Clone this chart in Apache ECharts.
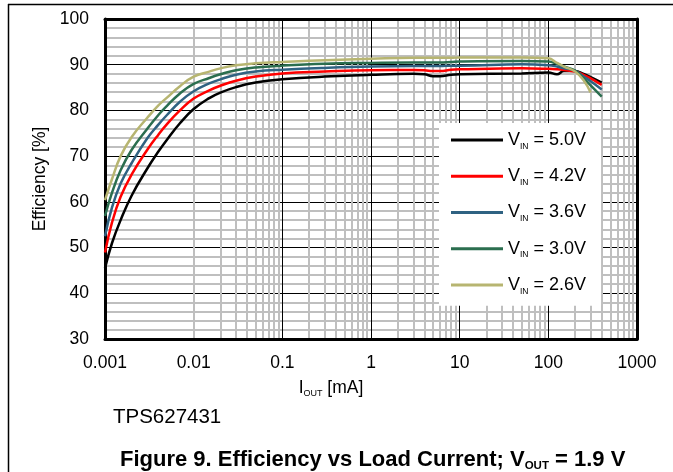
<!DOCTYPE html>
<html><head><meta charset="utf-8">
<script src="https://cdn.jsdelivr.net/npm/echarts@6/dist/echarts.min.js"></script>
<style>html,body{margin:0;padding:0;background:#fff}#c{width:673px;height:472px}</style>
</head><body><div id="c"></div>
<script>
// ---- data ----
const currentMA = [0.001, 0.0012, 0.0015, 0.002, 0.003, 0.004, 0.005, 0.007, 0.01, 0.015, 0.02, 0.03, 0.05, 0.1, 0.3, 1, 3, 4, 5, 6, 8, 10, 50, 100, 125, 150, 200, 250, 300, 400];
const effVin50 = [45.5, 51.0, 56.0, 61.4, 67.3, 71.0, 73.6, 77.2, 80.3, 82.7, 83.9, 85.1, 86.1, 86.8, 87.4, 87.8, 88.0, 87.9, 87.5, 87.5, 87.8, 87.9, 88.1, 88.3, 87.9, 88.6, 88.6, 88.0, 87.3, 86.1];
const effVin42 = [48.9, 55.5, 61.1, 66.0, 71.4, 74.7, 77.0, 80.0, 82.6, 84.4, 85.4, 86.5, 87.4, 88.1, 88.5, 88.8, 88.85, 88.8, 88.6, 88.6, 88.9, 89.0, 89.2, 89.1, 89.0, 88.85, 88.5, 87.8, 87.0, 85.6];
const effVin36 = [52.5, 58.8, 64.0, 68.5, 73.9, 76.9, 79.0, 81.9, 84.2, 85.9, 86.8, 87.8, 88.5, 88.9, 89.3, 89.6, 89.7, 89.7, 89.7, 89.7, 89.8, 89.8, 90.1, 89.9, 89.6, 89.2, 88.7, 87.4, 86.4, 84.6];
const effVin30 = [56.9, 62.0, 66.9, 71.4, 76.0, 79.0, 81.0, 83.7, 85.8, 87.1, 87.9, 88.8, 89.4, 89.8, 90.2, 90.4, 90.5, 90.5, 90.5, 90.5, 90.6, 90.7, 90.8, 90.7, 90.2, 89.6, 88.7, 87.0, 85.5, 83.0];
const effVin26 = [60.4, 65.0, 70.0, 74.2, 78.4, 81.1, 82.8, 85.3, 87.4, 88.5, 89.2, 89.9, 90.3, 90.6, 91.0, 91.3, 91.5, 91.5, 91.5, 91.5, 91.5, 91.6, 91.6, 91.4, 90.4, 89.6, 88.5, 86.6, 83.9, null];
const seriesVin = ['5.0V', '4.2V', '3.6V', '3.0V', '2.6V'];
const xTickLabels = ['0.001', '0.01', '0.1', '1', '10', '100', '1000'];
const yMin = 30, yMax = 100, yStep = 10;
const xMin = 0.001, xMax = 1000;

const effSets = [effVin50, effVin42, effVin36, effVin30, effVin26];
const colors = ['#000000', '#ff0000', '#2f6282', '#2b6e4f', '#b7b571'];
const FONT = "'Liberation Sans', Arial, sans-serif";

// minor log gridline values (2..9 in each decade)
const minorX = [];
for (let d = -3; d <= 2; d++) {
  for (let k = 2; k <= 9; k++) minorX.push(+(k * Math.pow(10, d)).toPrecision(6));
}

const dataSeries = effSets.map((arr, i) => ({
  name: seriesVin[i],
  type: 'line',
  xAxisIndex: 0, yAxisIndex: 0,
  data: currentMA.map((x, j) => arr[j] == null ? null : [x, arr[j]]).filter(p => p),
  showSymbol: false, symbol: 'none',
  smooth: 0.45,
  lineStyle: { color: colors[i], width: 2.5 },
  itemStyle: { color: colors[i] },
  z: 12,
  animation: false
}));

const gridSeries = {
  type: 'line', data: [], silent: true, z: 1,
  markLine: {
    silent: true, symbol: ['none', 'none'], label: { show: false },
    lineStyle: { color: '#bfbfbf', width: 2, type: 'solid' },
    emphasis: { disabled: true },
    animation: false,
    data: minorX.map(v => ({ xAxis: v }))
  }
};

const chart = echarts.init(document.getElementById('c'), null, { renderer: 'canvas' });
chart.setOption({
  animation: false,
  backgroundColor: '#ffffff',
  textStyle: { fontFamily: FONT },
  grid: { left: 105, top: 19, right: 36, bottom: 133, containLabel: false },
  title: [
    { text: 'TPS627431', left: 113, top: 407, padding: 0,
      textStyle: { fontSize: 20.5, fontWeight: 'normal', color: '#000', fontFamily: FONT } },
    { text: '{b|Figure 9. Efficiency vs Load Current; V}{s|OUT}{b| = 1.9 V}', left: 120, top: 448, padding: 0,
      textStyle: { rich: {
        b: { fontSize: 22, fontWeight: 'bold', color: '#000', fontFamily: FONT, lineHeight: 24 },
        s: { fontSize: 11.5, fontWeight: 'bold', color: '#000', fontFamily: FONT, lineHeight: 15, verticalAlign: 'bottom' }
      } } }
  ],
  legend: {
    data: seriesVin, orient: 'vertical', left: 439, top: 123,
    backgroundColor: '#ffffff', padding: [8, 15, 10, 12],
    itemWidth: 52, itemHeight: 3, itemGap: 16.5, icon: 'rect', z: 20,
    formatter: n => '{v|V}{s|IN}{v| = ' + n + '}',
    textStyle: { color: '#000', rich: {
      v: { fontSize: 18, lineHeight: 21.5, color: '#000', fontFamily: FONT },
      s: { fontSize: 8.5, lineHeight: 9, color: '#000', fontFamily: FONT, verticalAlign: 'bottom' }
    } }
  },
  xAxis: [
    { type: 'log', logBase: 10, min: xMin, max: xMax, position: 'bottom', z: 5,
      axisLine: { show: true, lineStyle: { color: '#000', width: 3 } },
      axisTick: { show: false },
      axisLabel: { color: '#000', fontSize: 17.5, margin: 15, fontFamily: FONT,
        formatter: v => xTickLabels[Math.round(Math.log10(v)) + 3] },
      splitLine: { show: false },
      name: '{n|I}{s|OUT}{n| [mA]}', nameLocation: 'middle', nameGap: 39,
      nameTextStyle: { padding: [0, 80, 0, 0], rich: {
        n: { fontSize: 17.5, lineHeight: 20, color: '#000', fontFamily: FONT },
        s: { fontSize: 9, lineHeight: 13, color: '#000', fontFamily: FONT, verticalAlign: 'bottom' }
      } } },
    { type: 'log', logBase: 10, min: xMin, max: xMax, position: 'top', z: 5,
      axisLine: { show: true, lineStyle: { color: '#000', width: 3 } },
      axisTick: { show: false }, axisLabel: { show: false },
      splitLine: { show: true, lineStyle: { color: '#000', width: 1 } } }
  ],
  yAxis: [
    { type: 'value', min: yMin, max: yMax, interval: yStep, position: 'left', z: 5,
      axisLine: { show: true, lineStyle: { color: '#000', width: 3 } },
      axisTick: { show: false },
      axisLabel: { color: '#000', fontSize: 17.5, margin: 16, fontFamily: FONT },
      splitLine: { show: false },
      name: 'Efficiency [%]', nameLocation: 'middle', nameGap: 55, nameRotate: 90,
      nameTextStyle: { fontSize: 17.5, color: '#000', fontFamily: FONT } },
    { type: 'value', min: yMin, max: yMax, interval: yStep, position: 'right', z: 0,
      axisLine: { show: true, lineStyle: { color: '#000', width: 3 } },
      axisTick: { show: false }, axisLabel: { show: false },
      splitLine: { show: true, lineStyle: { color: '#000', width: 1 } },
      minorTick: { show: false, splitNumber: 5 },
      minorSplitLine: { show: true, lineStyle: { color: '#bfbfbf', width: 2 } } }
  ],
  graphic: [
    { type: 'line', shape: { x1: 8, y1: 4.5, x2: 673, y2: 4.5 }, style: { stroke: '#000', lineWidth: 1.5 } },
    { type: 'line', shape: { x1: 8.5, y1: 4, x2: 8.5, y2: 472 }, style: { stroke: '#000', lineWidth: 1.5 } }
  ],
  series: [gridSeries].concat(dataSeries)
});
</script>
</body></html>
